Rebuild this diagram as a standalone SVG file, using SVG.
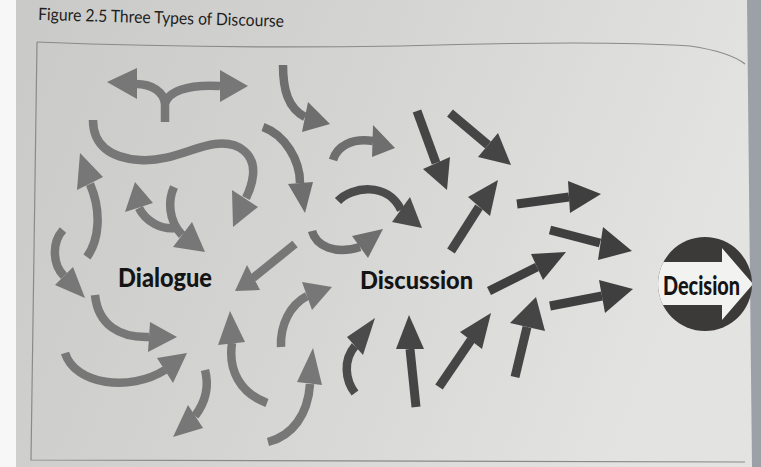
<svg xmlns="http://www.w3.org/2000/svg" width="761" height="467" viewBox="0 0 761 467">
  <defs>
    <linearGradient id="paper" x1="0" y1="0" x2="1" y2="0.25">
      <stop offset="0" stop-color="#c9c9c7"/>
      <stop offset="0.45" stop-color="#d3d3d1"/>
      <stop offset="1" stop-color="#e3e3e1"/>
    </linearGradient>
    <clipPath id="disc">
      <circle cx="705" cy="284" r="47"/>
    </clipPath>
  </defs>
  <style>
    .frame{fill:none;stroke:#8a8a8a;stroke-width:1.2}
    .title{font-family:Lato,"Liberation Sans",sans-serif;font-size:17px;fill:#1e1e1e}
    .label{font-family:Lato,"Liberation Sans",sans-serif;font-weight:900;fill:#141414}
    .s{fill:none;stroke-width:8.5;stroke-linejoin:round}
    .st{fill:none;stroke-width:9}
    .arrow polygon{stroke:none}
    .lt{stroke:#777777;fill:#777777}
    .lt2{stroke:#6e6e6e;fill:#6e6e6e}
    .md{stroke:#4b4b4b;fill:#4b4b4b}
    .dk{stroke:#454545;fill:#454545}
    .dk2{stroke:#3f3f3f;fill:#3f3f3f}
  </style>

  <!-- page -->
  <rect width="761" height="467" fill="url(#paper)"/>
  <rect x="0" y="0" width="16" height="467" fill="#f7f7f7"/>
  <polygon points="747,0 761,0 761,467 752,467" fill="#9ca1a8"/>

  <!-- figure frame -->
  <path class="frame" d="M37,42 Q210,49 400,46 Q600,40 690,46 Q730,52 745,64"/>
  <path class="frame" d="M37,42 L31,460 L745,462"/>

  <text class="title" x="38" y="20" textLength="246" lengthAdjust="spacingAndGlyphs" transform="rotate(1.6 38 20)">Figure 2.5 Three Types of Discourse</text>

  <g id="connectors">
    <!-- dialogue: wandering arrows -->
    <g class="arrow lt">
      <path class="s" d="M165,122 L165,104 C164,92 152,84 136,84 M165,104 C168,92 186,84 220,86"/>
      <polygon points="137,68 107,82 137,99"/>
      <polygon points="220,70 248,86 220,102"/>
    </g>
    <g class="arrow lt2">
      <path class="s" d="M283,65 C283,90 288,108 305,117"/>
      <polygon points="308,102 330,124 302,132"/>
    </g>
    <g class="arrow lt">
      <path class="s" d="M93,120 C93,145 110,158 140,160 C170,162 195,146 215,144 C240,141 255,155 253,175 C252,185 250,190 246,198"/>
      <polygon points="232,190 233,227 258,207"/>
    </g>
    <g class="arrow lt2">
      <path class="s" d="M263,127 C285,135 300,160 300,183"/>
      <polygon points="288,184 305,213 313,182"/>
    </g>
    <g class="arrow lt2">
      <path class="s" d="M333,160 C337,146 352,138 373,141"/>
      <polygon points="373,125 395,148 372,157"/>
    </g>
    <g class="arrow lt2">
      <path class="s" d="M312,231 C316,246 335,255 360,247"/>
      <polygon points="352,236 383,229 368,258"/>
    </g>
    <g class="arrow lt">
      <path class="s" d="M139,208 C146,222 162,230 176,228 M174,187 C168,200 168,220 182,235"/>
      <polygon points="125,212 135,182 153,203"/>
      <polygon points="173,247 205,252 192,222"/>
    </g>
    <g class="arrow lt">
      <path class="s" d="M63,230 C52,242 52,264 64,276"/>
      <polygon points="55,285 85,298 73,267"/>
    </g>
    <g class="arrow lt">
      <path class="s" d="M87,257 C99,240 102,212 90,184"/>
      <polygon points="77,190 80,153 103,177"/>
    </g>
    <g class="arrow lt">
      <path class="s" d="M95,295 C98,325 120,338 149,337"/>
      <polygon points="150,322 177,337 148,352"/>
    </g>
    <g class="arrow lt">
      <path class="s" d="M65,353 C75,385 130,392 165,370"/>
      <polygon points="157,358 187,353 173,383"/>
    </g>
    <g class="arrow lt">
      <path class="s" d="M205,370 C209,385 207,400 195,416"/>
      <polygon points="188,405 173,437 203,428"/>
    </g>
    <g class="arrow lt">
      <path class="s" d="M295,244 L253,278"/>
      <polygon points="247,265 235,291 260,290"/>
    </g>
    <g class="arrow lt">
      <path class="s" d="M267,403 C240,393 228,370 232,343"/>
      <polygon points="218,345 230,311 245,342"/>
    </g>
    <g class="arrow lt">
      <path class="s" d="M268,442 C292,436 308,415 310,384"/>
      <polygon points="297,382 313,348 322,385"/>
    </g>
    <g class="arrow lt">
      <path class="s" d="M281,347 C280,325 290,305 307,296"/>
      <polygon points="302,282 332,287 312,310"/>
    </g>

    <!-- discussion: arrows gathering direction -->
    <g class="arrow md">
      <path class="s" d="M338,201 C352,186 388,182 401,210"/>
      <polygon points="392,222 422,228 410,197"/>
    </g>
    <g class="arrow md">
      <path class="s" d="M355,393 C345,380 343,360 355,346"/>
      <polygon points="347,337 375,318 363,355"/>
    </g>
    <g class="arrow dk">
      <path class="st" d="M417,111 L436,163"/>
      <polygon points="423,169 447,190 450,157"/>
    </g>
    <g class="arrow dk">
      <path class="st" d="M450,113 L488,145"/>
      <polygon points="478,157 511,165 498,133"/>
    </g>
    <g class="arrow dk">
      <path class="st" d="M451,251 L479,207"/>
      <polygon points="468,197 498,180 490,216"/>
    </g>
    <g class="arrow dk">
      <path class="st" d="M416,407 L410,349"/>
      <polygon points="396,349 409,315 424,349"/>
    </g>
    <g class="arrow dk">
      <path class="st" d="M439,387 L471,340"/>
      <polygon points="460,332 491,313 482,349"/>
    </g>
    <g class="arrow dk">
      <path class="st" d="M515,377 L527,327"/>
      <polygon points="510,323 536,297 545,331"/>
    </g>

    <!-- decision: arrows converging -->
    <g class="arrow dk2">
      <path class="st" d="M517,204 L569,197"/>
      <polygon points="568,181 601,194 570,213"/>
    </g>
    <g class="arrow dk2">
      <path class="st" d="M550,230 L600,243"/>
      <polygon points="603,227 632,251 598,260"/>
    </g>
    <g class="arrow dk2">
      <path class="st" d="M489,291 L537,267"/>
      <polygon points="531,254 566,252 543,280"/>
    </g>
    <g class="arrow dk2">
      <path class="st" d="M550,306 L602,296"/>
      <polygon points="599,280 633,289 605,313"/>
    </g>
  </g>

  <g id="dialogue">
    <text class="label" x="118" y="287" font-size="27" textLength="94" lengthAdjust="spacingAndGlyphs">Dialogue</text>
  </g>

  <g id="discussion">
    <text class="label" x="360" y="289" font-size="25" textLength="113" lengthAdjust="spacingAndGlyphs">Discussion</text>
  </g>

  <g id="decision">
    <circle cx="705" cy="284" r="47" fill="#3c3a39"/>
    <polygon clip-path="url(#disc)" fill="#f2f2f0" points="650,262 722,262 722,248 753,284 722,320 722,305 650,305"/>
    <text class="label" x="663" y="295" font-size="27" textLength="77" lengthAdjust="spacingAndGlyphs">Decision</text>
  </g>
</svg>
